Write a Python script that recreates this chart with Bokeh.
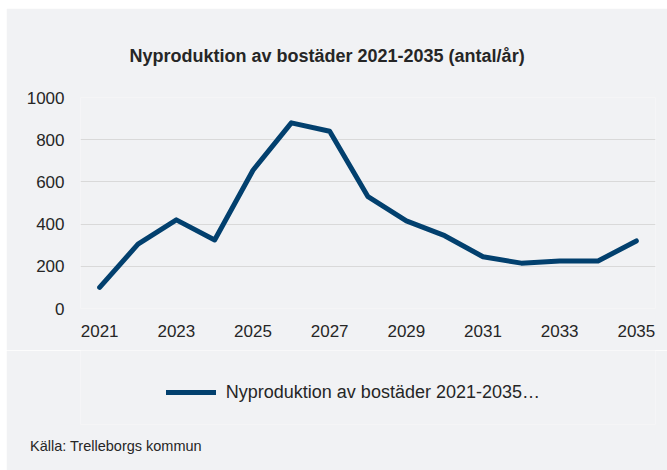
from bokeh.plotting import figure
from bokeh.layouts import column
from bokeh.models import Legend, LegendItem, FixedTicker, ColumnDataSource, Title
from bokeh.embed import file_html
from bokeh.resources import INLINE

years = [2021, 2022, 2023, 2024, 2025, 2026, 2027, 2028, 2029, 2030, 2031, 2032, 2033, 2034, 2035]
values = [100, 305, 420, 325, 655, 880, 840, 530, 415, 345, 245, 215, 225, 225, 320]
x_ticks = [2021, 2023, 2025, 2027, 2029, 2031, 2033, 2035]
y_ticks = [0, 200, 400, 600, 800, 1000]
series_name = "Nyproduktion av bostäder 2021-2035…"
title_text = "Nyproduktion av bostäder 2021-2035 (antal/år)"
source_text = "Källa: Trelleborgs kommun"

BG = "#F1F2F4"
LINE = "#02406E"
TXT = "#262626"
FONT = "Liberation Sans"

# main chart
p = figure(width=661, height=342, output_backend="svg", toolbar_location=None,
           x_range=(2020.5, 2035.5), y_range=(0, 1000),
           background_fill_color=BG, border_fill_color=BG,
           min_border_left=74, min_border_right=12, min_border_top=89, min_border_bottom=42)
p.margin = (8, 0, 0, 6)
p.outline_line_color = None

src = ColumnDataSource(dict(x=years, y=values))
p.line("x", "y", source=src, line_color=LINE, line_width=5, line_join="round", line_cap="round")

p.xaxis.ticker = FixedTicker(ticks=x_ticks)
p.yaxis.ticker = FixedTicker(ticks=y_ticks)
for ax in (p.xaxis[0], p.yaxis[0]):
    ax.axis_line_color = None
    ax.major_tick_line_color = None
    ax.minor_tick_line_color = None
    ax.major_tick_out = 0
    ax.major_tick_in = 0
    ax.minor_tick_out = 0
    ax.minor_tick_in = 0
    ax.major_label_text_font = FONT
    ax.major_label_text_font_size = "17px"
    ax.major_label_text_color = TXT
p.yaxis.major_label_standoff = 16
p.xaxis.major_label_standoff = 16
p.xgrid.grid_line_color = None
p.ygrid.grid_line_color = "#D9D9D9"
p.ygrid.grid_line_width = 1.2

p.add_layout(Title(text=title_text, align="left", offset=49, standoff=64,
                   text_font=FONT, text_font_size="18px", text_font_style="bold",
                   text_color=TXT), "above")

# footer with legend and source (frame aligned with the main chart's frame)
p2 = figure(width=661, height=120, output_backend="svg", toolbar_location=None,
            x_range=(0, 1), y_range=(0, 1), x_axis_type=None, y_axis_type=None,
            background_fill_color=BG, border_fill_color=BG,
            min_border_left=74, min_border_right=12, min_border_top=0, min_border_bottom=46)
p2.margin = (0, 0, 0, 6)
p2.outline_line_color = None

r2 = p2.line("x", "y", source=src, visible=False, line_color=LINE, line_width=5,
             line_join="round", line_cap="round")
legend = Legend(items=[LegendItem(label=series_name, renderers=[r2])], location=(85.8, 21.5),
                orientation="horizontal", margin=0, padding=0, spacing=0,
                glyph_width=50, glyph_height=20, label_height=20, label_standoff=10,
                label_text_font=FONT, label_text_font_size="18px", label_text_color=TXT,
                border_line_color=None, background_fill_alpha=0, inactive_fill_alpha=0)
p2.add_layout(legend, "center")

p2.add_layout(Title(text=source_text, align="left", offset=-50.5, standoff=27,
                    vertical_align="top", text_font=FONT, text_font_size="14.5px",
                    text_font_style="normal", text_color=TXT), "below")

layout = column(p, p2, spacing=0)
open("out.html", "w").write(file_html(layout, INLINE))
